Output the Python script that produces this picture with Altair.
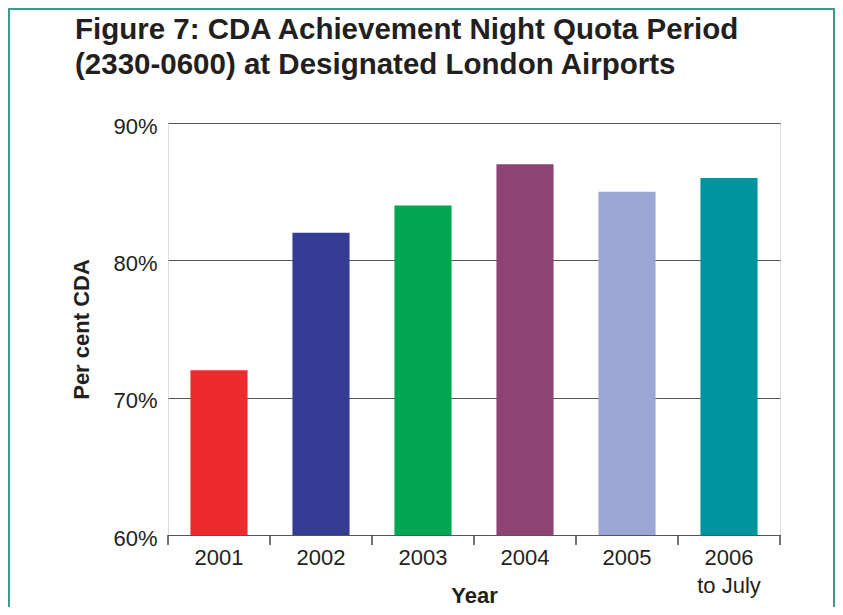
import altair as alt
import pandas as pd

years = ["2001", "2002", "2003", "2004", "2005", "2006 to July"]
values = [72, 82, 84, 87, 85, 86]
colors = ["#ee2a2e", "#343c94", "#00a651", "#8e4375", "#9ba6d4", "#00959e"]
y_ticks = [60, 70, 80, 90]

df = pd.DataFrame({"year": years, "pct": values})

W, H = 612, 412
FONT = "Liberation Sans"
INK = "#231f20"
STEP = W / len(years)

xscale = alt.Scale(domain=years, paddingInner=0.44, paddingOuter=0.22)

bars = alt.Chart(df).mark_bar(clip=True).encode(
    x=alt.X(
        "year:N",
        scale=xscale,
        sort=years,
        axis=alt.Axis(
            title="Year",
            labelAngle=0,
            ticks=False,
            domain=False,
            labelExpr="datum.label == '2006 to July' ? ['2006', 'to July'] : datum.label",
            labelFontSize=22,
            labelLineHeight=28,
            labelPadding=12,
            labelColor=INK,
            labelFont=FONT,
            titleFont=FONT,
            titleFontSize=22,
            titleFontWeight="bold",
            titleColor=INK,
            titleBaseline="alphabetic",
            titleY=67,
        ),
    ),
    y=alt.Y(
        "pct:Q",
        scale=alt.Scale(domain=[60, 90], nice=False, zero=False),
        axis=alt.Axis(
            title="Per cent CDA",
            values=y_ticks,
            labelExpr="datum.value + '%'",
            ticks=False,
            domain=False,
            grid=True,
            gridColor="#555555",
            gridWidth=1,
            gridOpacity=1,
            labelFontSize=22,
            labelPadding=11,
            labelOffset=3,
            labelColor=INK,
            labelFont=FONT,
            titleFont=FONT,
            titleFontSize=22,
            titleFontWeight="bold",
            titleColor=INK,
            titlePadding=19,
        ),
    ),
    color=alt.Color("year:N", scale=alt.Scale(domain=years, range=colors), legend=None),
)

ticks = alt.Chart(df).mark_rule(color="#444444", strokeWidth=1.5, xOffset=-0.22 * STEP).encode(
    x=alt.X("year:N", sort=years, bandPosition=0),
    y=alt.value(H),
    y2=alt.value(H + 10),
)

last_tick = alt.Chart(alt.Data(values=[{"k": 1}])).mark_rule(color="#444444", strokeWidth=1.5).encode(
    x=alt.value(W),
    y=alt.value(H),
    y2=alt.value(H + 10),
)

frame = alt.Chart(alt.Data(values=[{"k": 1}])).mark_rect(
    fill=None, stroke="#3a9a8e", strokeWidth=2
).encode(
    x=alt.value(-159),
    x2=alt.value(666),
    y=alt.value(-114),
    y2=alt.value(620),
)

chart = (
    alt.layer(frame, bars, ticks, last_tick)
    .properties(
        width=W,
        height=H,
        autosize=alt.AutoSizeParams(type="none"),
        padding={"left": 160, "top": 115, "right": 55, "bottom": 72},
        title=alt.Title(
            ["Figure 7: CDA Achievement Night Quota Period", "(2330-0600) at Designated London Airports"],
            anchor="start",
            frame="group",
            font=FONT,
            fontSize=29.5,
            fontWeight="bold",
            color=INK,
            lineHeight=35,
            dx=-93,
            dy=112,
            offset=40,
        ),
    )
    .configure_view(stroke="#333333", strokeWidth=1.5)
    .configure(background="white")
)

chart.save("out.html", embed_options={"renderer": "svg", "actions": False})
